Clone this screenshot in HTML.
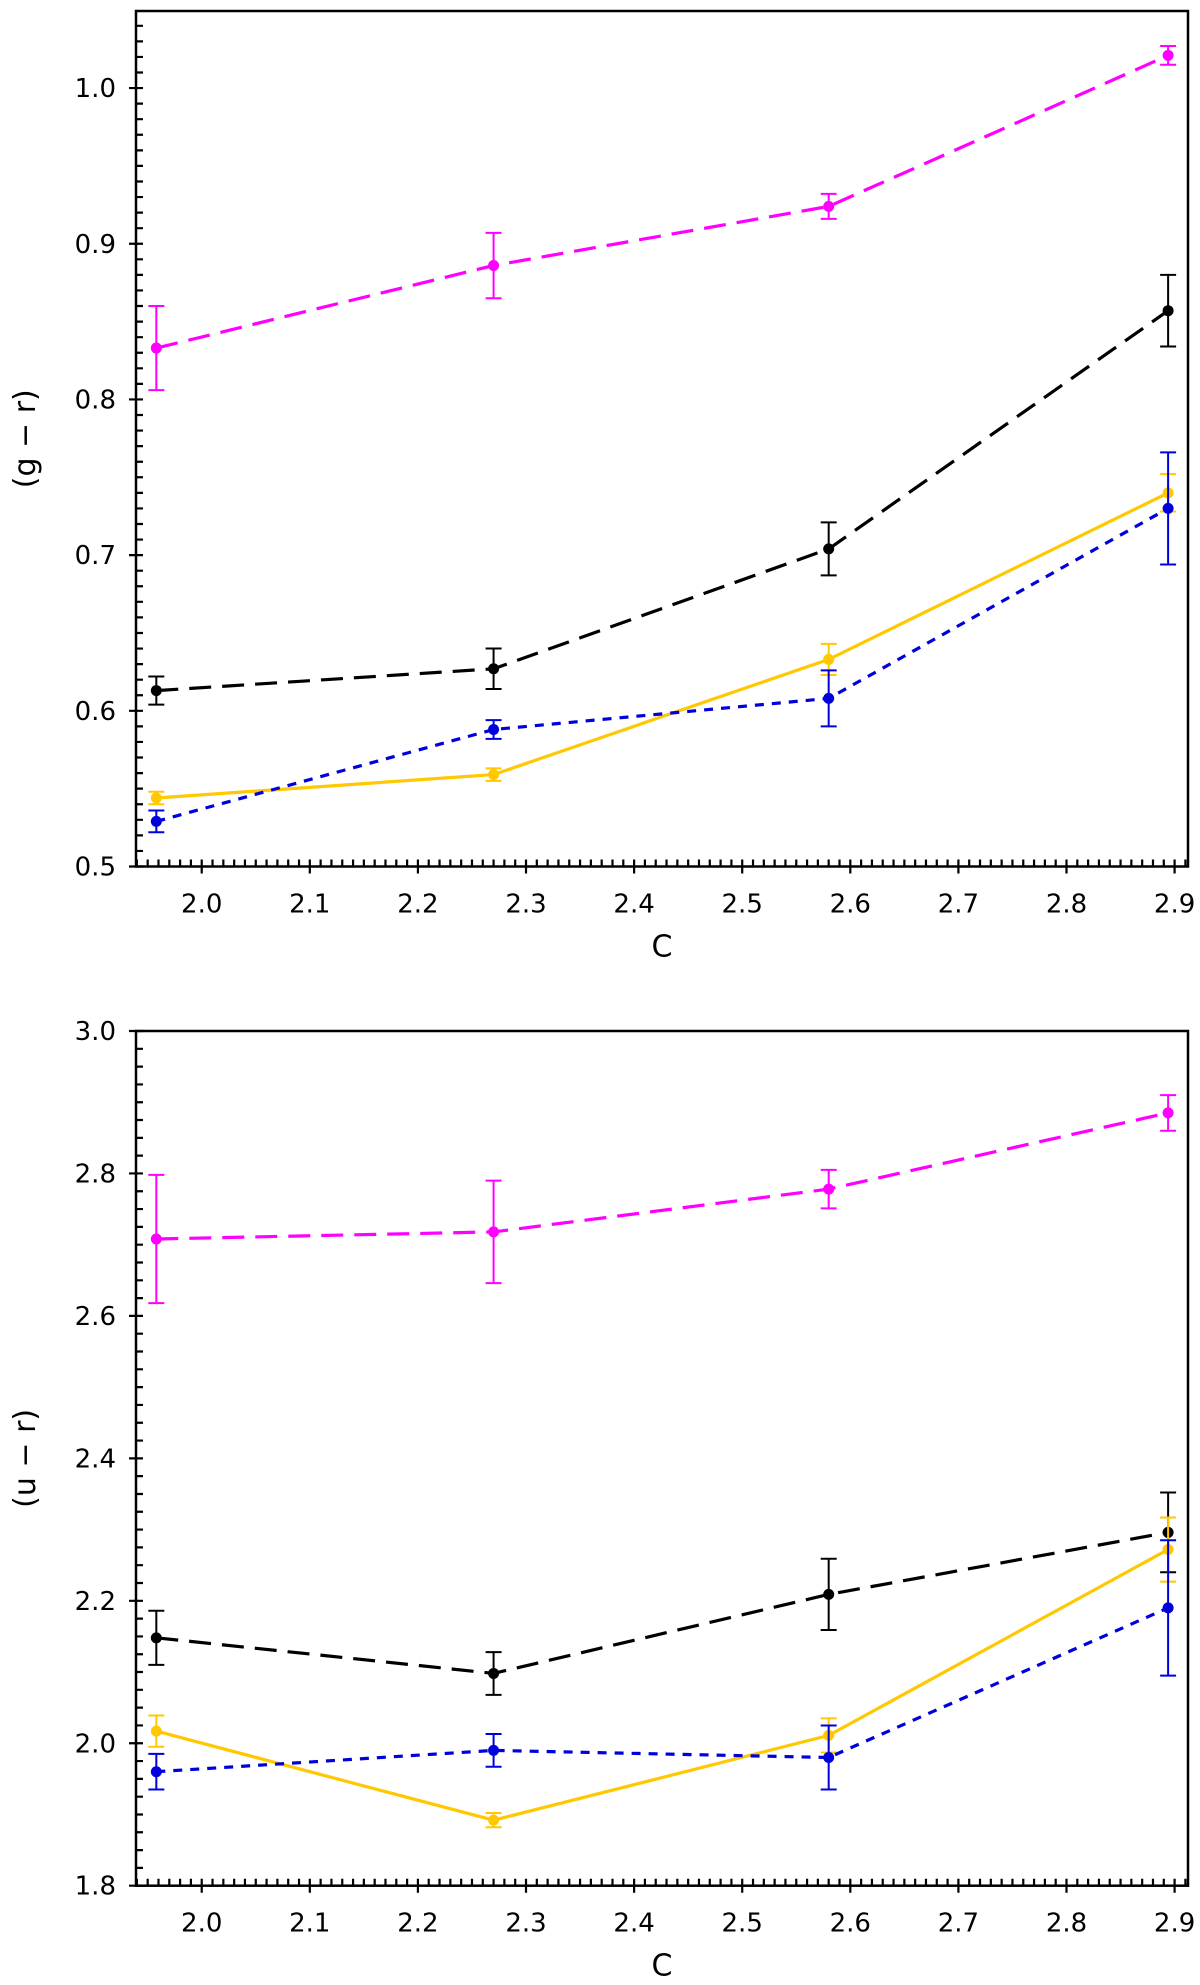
<!DOCTYPE html>
<html><head><meta charset="utf-8"><style>
html,body{margin:0;padding:0;background:#fff;}
svg{display:block;}
text{font-family:"DejaVu Sans","Liberation Sans",sans-serif;fill:#000;}
</style></head><body>
<svg id="fig" width="1200" height="1985" viewBox="0 0 1200 1985" xmlns="http://www.w3.org/2000/svg"></svg>
<script>
const xValues = [1.958, 2.27, 2.58, 2.894];
const xTicks = [2.0, 2.1, 2.2, 2.3, 2.4, 2.5, 2.6, 2.7, 2.8, 2.9];
const xTickLabels = ["2.0","2.1","2.2","2.3","2.4","2.5","2.6","2.7","2.8","2.9"];
const topTicks = [0.5, 0.6, 0.7, 0.8, 0.9, 1.0];
const topTickLabels = ["0.5","0.6","0.7","0.8","0.9","1.0"];
const botTicks = [1.8, 2.0, 2.2, 2.4, 2.6, 2.8, 3.0];
const botTickLabels = ["1.8","2.0","2.2","2.4","2.6","2.8","3.0"];
const seriesNames = ["magenta","black","yellow","blue"];
const gr_magenta = [0.833, 0.886, 0.924, 1.021];
const gr_magenta_err = [0.027, 0.021, 0.008, 0.006];
const gr_black = [0.613, 0.627, 0.704, 0.857];
const gr_black_err = [0.009, 0.013, 0.017, 0.023];
const gr_yellow = [0.544, 0.559, 0.633, 0.740];
const gr_yellow_err = [0.004, 0.004, 0.010, 0.012];
const gr_blue = [0.529, 0.588, 0.608, 0.730];
const gr_blue_err = [0.007, 0.006, 0.018, 0.036];
const ur_magenta = [2.708, 2.718, 2.778, 2.885];
const ur_magenta_err = [0.090, 0.072, 0.027, 0.025];
const ur_black = [2.148, 2.098, 2.209, 2.296];
const ur_black_err = [0.038, 0.030, 0.050, 0.056];
const ur_yellow = [2.017, 1.892, 2.011, 2.272];
const ur_yellow_err = [0.022, 0.010, 0.024, 0.045];
const ur_blue = [1.960, 1.990, 1.980, 2.190];
const ur_blue_err = [0.025, 0.023, 0.045, 0.095];

const NS = "http://www.w3.org/2000/svg";
const svg = document.getElementById("fig");
function mk(tag, attrs, parent){
  const e = document.createElementNS(NS, tag);
  for (const k in attrs) e.setAttribute(k, attrs[k]);
  (parent||svg).appendChild(e);
  return e;
}
const styles = {
  magenta:{color:"#ff00ff", dash:"22,11"},
  black:{color:"#000000", dash:"22,11"},
  yellow:{color:"#ffc800", dash:""},
  blue:{color:"#0000dd", dash:"9,8"}
};
const XL=136, XR=1188, X0=1.9392, X1=2.9124;
function xs(v){ return XL + (v-X0)/(X1-X0)*(XR-XL); }

function panel(name, top, bottom, y0, y1, yt, ytl, minorStep, ylabel, data, errs){
  const g = mk("g", {});
  
  
  const ys = v => bottom - (v-y0)/(y1-y0)*(bottom-top);
  // series
  seriesNames.forEach((s,i)=>{
    const st = styles[s];
    const sg = mk("g", {}, g);
    
    
    const pts = data[i].map((v,j)=>xs(xValues[j]).toFixed(1)+","+ys(v).toFixed(1)).join(" ");
    const pl = mk("polyline", {points:pts, fill:"none", stroke:st.color, "stroke-width":3.2, "stroke-dasharray":st.dash}, sg);
    
    
    data[i].forEach((v,j)=>{
      const x = xs(xValues[j]), e = errs[i][j];
      const yt2 = ys(v+e), yb = ys(v-e);
      const eb = mk("path", {d:`M${x},${yt2}V${yb}M${x-8},${yt2}H${x+8}M${x-8},${yb}H${x+8}`, stroke:st.color, "stroke-width":2, fill:"none"}, sg);
      
      
      const c = mk("circle", {cx:x, cy:ys(v), r:5.5, fill:st.color}, sg);
      
      
    });
  });
  // frame
  const fr = mk("rect", {x:XL, y:top, width:XR-XL, height:bottom-top, fill:"none", stroke:"#000", "stroke-width":2.5}, g);
  
  
  // y ticks
  let d = "";
  const nMin = Math.round((y1-y0)/minorStep);
  for (let k=0;k<=nMin;k++){ const y = ys(y0+k*minorStep); if (y>=top-0.5) d += `M${XL},${y}H${XL+7}`; }
  yt.forEach(v=>{ const y=ys(v); d += `M${XL-7},${y}H${XL+7}`; });
  // x ticks
  for (let k=194;k<=291;k++){ const x = xs(k/100); if (x>=XL && x<=XR) d += `M${x},${bottom}V${bottom-7}`; }
  xTicks.forEach(v=>{ const x=xs(v); d += `M${x},${bottom+7}V${bottom-7}`; });
  const tk = mk("path", {d:d, stroke:"#000", "stroke-width":2.2, fill:"none"}, g);
  
  
  yt.forEach((v,i)=>{
    const t = mk("text", {x:XL-20, y:ys(v)+9, "font-size":26, "text-anchor":"end"}, g);
    t.textContent = ytl[i];
    
    
  });
  xTicks.forEach((v,i)=>{
    const t = mk("text", {x:xs(v), y:bottom+46, "font-size":26, "text-anchor":"middle"}, g);
    t.textContent = xTickLabels[i];
    
    
  });
  const xl = mk("text", {x:(XL+XR)/2, y:bottom+90, "font-size":30, "text-anchor":"middle"}, g);
  xl.textContent = "C";
  
  
  const cy = (top+bottom)/2;
  const yl = mk("text", {x:35, y:cy, "font-size":30, "text-anchor":"middle", transform:`rotate(-90 35 ${cy})`}, g);
  yl.textContent = ylabel;
  
  
}
panel("top-panel", 11, 866.5, 0.5, 1.0495, topTicks, topTickLabels, 0.01, "(g \u2212 r)",
  [gr_magenta, gr_black, gr_yellow, gr_blue], [gr_magenta_err, gr_black_err, gr_yellow_err, gr_blue_err]);
panel("bottom-panel", 1031, 1885.7, 1.8, 3.0, botTicks, botTickLabels, 0.025, "(u \u2212 r)",
  [ur_magenta, ur_black, ur_yellow, ur_blue], [ur_magenta_err, ur_black_err, ur_yellow_err, ur_blue_err]);
</script>
</body></html>
